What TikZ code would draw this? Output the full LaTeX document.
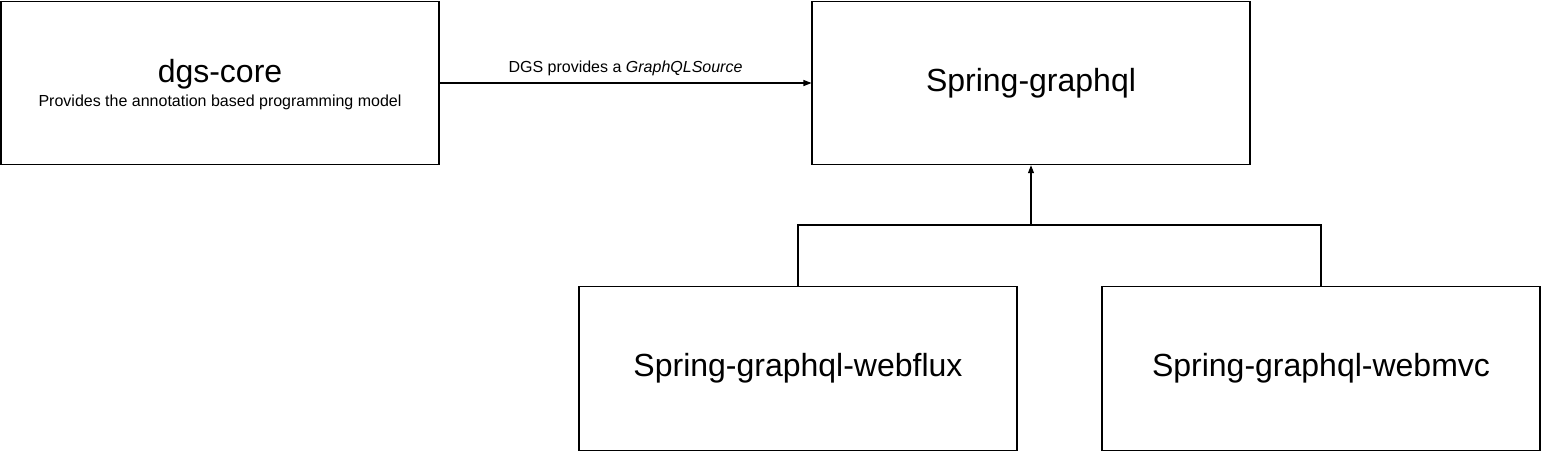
\documentclass[tikz,border=0pt]{standalone}
\usepackage{fontspec}
\setmainfont{Liberation Sans}
\usetikzlibrary{arrows.meta}
\begin{document}
\begin{tikzpicture}[x=0.75pt,y=-0.75pt,
  box/.style={draw=black,line width=0.8pt,fill=white,minimum width=328.5pt,minimum height=122.5pt,inner sep=0pt,align=center},
  big/.style={font=\fontsize{24}{28}\selectfont},
  small/.style={font=\fontsize{12}{14}\selectfont},
  conn/.style={draw=black,line width=0.8pt},
  tip/.style={-{Triangle[length=6pt,width=4.5pt]}}]
\useasboundingbox (0,0) rectangle (1541,451);
\node[box] (core) at (220,83) {};
\node[big,inner sep=0pt] (coretitle) at (220,74) {dgs-core};
\node[small,inner sep=0pt] (coresub) at (220,102) {Provides the annotation based programming model};
\node[box,big] (sg) at (1031,83) {Spring-graphql};
\node[box,big] (flux) at (798,368.5) {Spring-graphql-webflux};
\node[box,big] (mvc) at (1321,368.5) {Spring-graphql-webmvc};
\draw[conn,tip] (core.east) -- node[small,above=5pt,inner sep=0pt] (lbl) {DGS provides a \textit{GraphQLSource}} (sg.west);
\coordinate (j) at (1031,225);
\draw[conn] (flux.north) |- (j) -| (mvc.north);
\draw[conn,tip] (j) -- (sg.south);
\end{tikzpicture}
\end{document}
